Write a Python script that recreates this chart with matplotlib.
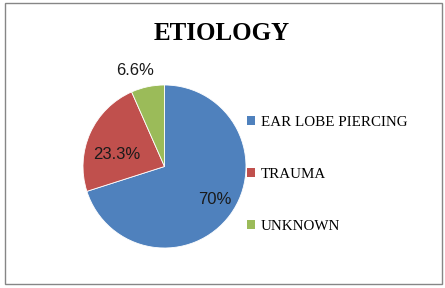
import matplotlib.pyplot as plt
from matplotlib.patches import Rectangle
import numpy as np

categories = ["EAR LOBE PIERCING", "TRAUMA", "UNKNOWN"]
values = [70, 23.3, 6.6]
pct_labels = ["70%", "23.3%", "6.6%"]
colors = ["#4F81BD", "#C0504D", "#9BBB59"]

W, H = 445, 288
fig = plt.figure(figsize=(W / 100, H / 100), dpi=100)

# frame around the chart
fig.patches.append(Rectangle((5 / W, 4 / H), 437 / W, 281 / H, transform=fig.transFigure,
                             fill=False, edgecolor="#868686", linewidth=1))

fig.text(222 / W, 1 - 33 / H, "ETIOLOGY", ha="center", va="center",
         fontsize=18, fontweight="bold", family="Liberation Serif")

# pie axes: centre (164.5, 166.5) px, radius 81.5 px
cx, cy, r = 164.5, 166.5, 81.5
ax = fig.add_axes([(cx - r) / W, (H - cy - r) / H, 2 * r / W, 2 * r / H])
wedges, _ = ax.pie(values, colors=colors, startangle=90, counterclock=False,
                   wedgeprops=dict(edgecolor="white", linewidth=0.6))
ax.set_xlim(-1, 1)
ax.set_ylim(-1, 1)
ax.set_aspect("equal")

# label placement (radius, angle in degrees), Excel "best fit" style
label_pos = [(0.74, -33.5), (0.60, 166.0), (1.23, 107.0)]
for txt, (rr, ang) in zip(pct_labels, label_pos):
    a = np.deg2rad(ang)
    ax.text(rr * np.cos(a), rr * np.sin(a), txt, ha="center", va="center",
            fontsize=12, family="Liberation Sans", color="#1a1a1a", clip_on=False)

handles = [Rectangle((0, 0), 1, 1, facecolor=c, edgecolor="none") for c in colors]
fig.legend(handles, categories, loc="upper left", bbox_to_anchor=(247 / W, 1 - 115.5 / H),
           frameon=False, prop=dict(family="Liberation Serif", size=10.8),
           handlelength=0.55, handleheight=0.55, handletextpad=0.38,
           labelspacing=2.62, borderaxespad=0, borderpad=0)

fig.savefig("out.png", dpi=100)
